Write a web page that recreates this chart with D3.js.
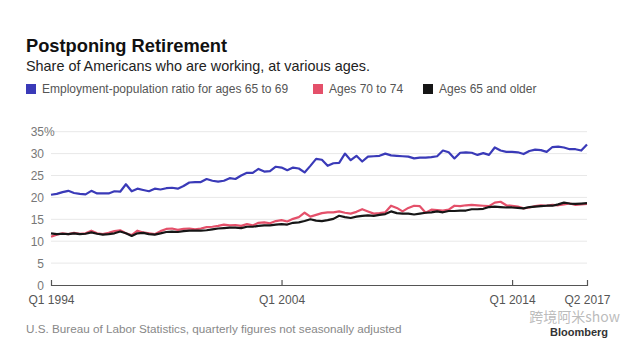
<!DOCTYPE html>
<html>
<head>
<meta charset="utf-8">
<script src="https://cdn.jsdelivr.net/npm/d3@7"></script>
<style>
  html, body { margin: 0; padding: 0; background: #fff; }
  svg { display: block; font-family: "Liberation Sans", Arial, sans-serif; }
</style>
</head>
<body>
<svg id="chart" width="640" height="354"></svg>
<script>
// ---- data (quarterly, Q1 1994 .. Q2 2017) ----
const quarters = [];
for (let yr = 1994; yr <= 2017; yr++) {
  for (let q = 1; q <= 4; q++) {
    if (yr === 2017 && q > 2) break;
    quarters.push("Q" + q + " " + yr);
  }
}
const ages65to69 = [20.6, 20.8, 21.2, 21.5, 21.0, 20.8, 20.7, 21.5, 20.9, 20.9, 20.9, 21.4, 21.3, 23.0, 21.4, 22.0, 21.7, 21.4, 22.0, 21.8,
  22.1, 22.2, 22.0, 22.6, 23.4, 23.5, 23.5, 24.2, 23.8, 23.6, 23.8, 24.4, 24.2, 25.0, 25.6, 25.6, 26.5, 25.9, 26.0, 27.0,
  26.8, 26.2, 26.8, 26.6, 25.7, 27.2, 28.8, 28.6, 27.2, 27.8, 27.9, 30.0, 28.5, 29.5, 28.2, 29.3, 29.4, 29.5, 30.0, 29.6,
  29.5, 29.4, 29.3, 28.9, 29.1, 29.1, 29.2, 29.4, 30.7, 30.3, 28.9, 30.2, 30.3, 30.2, 29.7, 30.1, 29.7, 31.4, 30.7, 30.4,
  30.4, 30.3, 29.9, 30.6, 30.9, 30.8, 30.4, 31.5, 31.6, 31.4, 31.0, 31.0, 30.7, 32.1];
const ages70to74 = [11.0, 11.5, 11.8, 11.6, 11.9, 11.7, 11.8, 12.4, 11.8, 11.6, 11.9, 12.3, 12.5, 11.8, 11.4, 12.4, 12.0, 11.8, 11.6, 12.3,
  12.8, 12.9, 12.6, 12.8, 12.9, 12.7, 12.9, 13.2, 13.3, 13.5, 13.8, 13.6, 13.7, 13.5, 13.9, 13.6, 14.2, 14.3, 14.1, 14.6,
  14.8, 14.5, 15.1, 15.5, 16.5, 15.6, 16.0, 16.4, 16.6, 16.6, 16.8, 16.5, 16.3, 16.7, 17.3, 16.8, 16.3, 16.4, 16.6, 18.1,
  17.6, 16.8, 17.6, 18.1, 18.0, 16.5, 17.2, 17.1, 17.0, 17.2, 18.1, 18.0, 18.2, 18.3, 18.2, 18.1, 18.0, 18.8, 19.0, 18.2,
  18.1, 17.9, 17.5, 17.7, 18.0, 18.2, 18.1, 18.3, 18.2, 18.4, 18.6, 18.3, 18.4, 18.5];
const ages65plus = [11.8, 11.6, 11.7, 11.6, 11.8, 11.6, 11.7, 12.0, 11.7, 11.5, 11.6, 11.8, 12.2, 11.8, 11.2, 11.8, 11.9, 11.6, 11.5, 11.8,
  12.1, 12.2, 12.1, 12.3, 12.4, 12.4, 12.4, 12.5, 12.7, 12.9, 13.0, 13.1, 13.1, 13.0, 13.3, 13.3, 13.5, 13.6, 13.6, 13.8,
  13.9, 13.8, 14.2, 14.3, 14.6, 15.0, 14.7, 14.6, 14.8, 15.1, 15.8, 15.5, 15.3, 15.6, 15.8, 15.9, 15.8, 16.0, 16.2, 16.8,
  16.4, 16.3, 16.3, 16.1, 16.3, 16.5, 16.6, 16.8, 16.6, 16.9, 16.9, 17.0, 17.0, 17.3, 17.3, 17.4, 17.8, 17.9, 17.8, 17.7,
  17.7, 17.6, 17.5, 17.8, 17.9, 18.0, 18.1, 18.1, 18.4, 18.8, 18.6, 18.5, 18.6, 18.7];
const yTicks = [0, 5, 10, 15, 20, 25, 30, 35];
const xTickLabels = ["Q1 1994", "Q1 2004", "Q1 2014", "Q2 2017"];
const seriesNames = ["Employment-population ratio for ages 65 to 69", "Ages 70 to 74", "Ages 65 and older"];
const seriesColors = ["#3a3ab8", "#e4506a", "#161616"];

// ---- layout ----
const svg = d3.select("#chart");
const plotLeft = 51, plotRight = 587, plotTop = 131.7, plotBottom = 285;

const x = d3.scalePoint().domain(quarters).range([plotLeft, plotRight]);
const y = d3.scaleLinear().domain([0, 35]).range([plotBottom, plotTop]);

// titles
svg.append("text").attr("x", 26).attr("y", 52).attr("font-size", 18.3).attr("font-weight", "bold")
  .attr("fill", "#111").text("Postponing Retirement");
svg.append("text").attr("x", 26).attr("y", 71).attr("font-size", 14.4).attr("fill", "#222")
  .text("Share of Americans who are working, at various ages.");

// legend
const legendX = [26, 313, 423];
seriesNames.forEach((n, i) => {
  svg.append("rect").attr("x", legendX[i]).attr("y", 84).attr("width", 10).attr("height", 10)
    .attr("fill", seriesColors[i]);
  svg.append("text").attr("x", legendX[i] + 16).attr("y", 93).attr("font-size", 12)
    .attr("fill", "#555").text(n);
});

// gridlines
svg.append("g").selectAll("line").data(yTicks.filter(d => d > 0)).join("line")
  .attr("x1", plotLeft).attr("x2", plotRight)
  .attr("y1", d => y(d)).attr("y2", d => y(d))
  .attr("stroke", "#e8e8e8").attr("stroke-width", 1);

// y labels
const yl = svg.append("g").attr("font-size", 12).attr("fill", "#777");
yTicks.forEach(d => {
  yl.append("text").attr("x", 44).attr("y", y(d) + 4.5).attr("text-anchor", "end").text(d);
  if (d === 35) yl.append("text").attr("x", 44).attr("y", y(d) + 4.5).text("%");
});

// x axis
const xAxis = d3.axisBottom(x).tickValues(xTickLabels).tickSize(0).tickPadding(10);
const gx = svg.append("g").attr("transform", `translate(0,${plotBottom})`).call(xAxis);
gx.select(".domain").attr("stroke", "#555").attr("stroke-width", 1.2);
gx.selectAll(".tick text").attr("font-size", 12).attr("fill", "#555")
  .attr("font-family", "'Liberation Sans', Arial, sans-serif");
gx.selectAll(".tick").append("line").attr("y1", -5).attr("y2", 1).attr("stroke", "#555").attr("stroke-width", 1.2);

// lines
const line = d3.line().x((d, i) => x(quarters[i])).y(d => y(d)).curve(d3.curveLinear);
[[ages65to69, 0], [ages70to74, 1], [ages65plus, 2]].forEach(([data, i]) => {
  svg.append("path").datum(data).attr("d", line).attr("fill", "none")
    .attr("stroke", seriesColors[i]).attr("stroke-width", 2.2).attr("stroke-linejoin", "round");
});

// source
svg.append("text").attr("x", 26).attr("y", 333).attr("font-size", 11.7).attr("fill", "#888")
  .text("U.S. Bureau of Labor Statistics, quarterly figures not seasonally adjusted");
svg.append("text").attr("x", 608).attr("y", 336).attr("text-anchor", "end").attr("font-size", 11)
  .attr("font-weight", "bold").attr("fill", "#333").text("Bloomberg");
svg.append("text").attr("x", 620).attr("y", 322).attr("text-anchor", "end").attr("font-size", 14)
  .attr("font-family", "'Noto Sans CJK SC', sans-serif").attr("fill", "#aaa").attr("fill-opacity", 0.8)
  .text("跨境阿米show");
</script>
</body>
</html>
